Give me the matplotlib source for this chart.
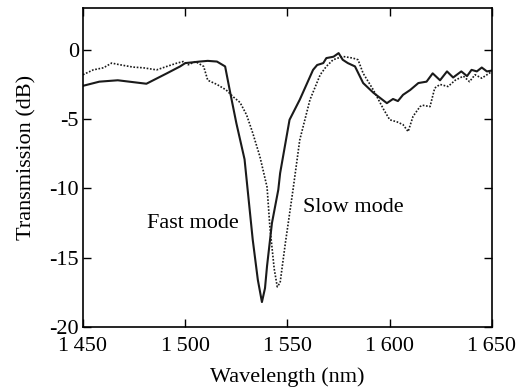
import matplotlib.pyplot as plt
from matplotlib.ticker import FuncFormatter

# fast mode (solid line)
fast_nm = [1450, 1458, 1467, 1481, 1491, 1497.5, 1500, 1504, 1507, 1511, 1515.5, 1519.5,
           1522, 1525, 1529, 1531, 1533, 1535.5, 1537.5, 1539, 1540, 1542.4, 1545.5, 1546.4,
           1551, 1556, 1562.5, 1564.5, 1567.5, 1569, 1572.5, 1575, 1577, 1579.5, 1583, 1587,
           1592, 1598.6, 1601.6, 1604, 1606.5, 1610, 1614, 1618, 1621, 1624.6, 1628, 1631,
           1635, 1637.8, 1640, 1642.6, 1645, 1647.5, 1650]
fast_db = [-2.6, -2.3, -2.2, -2.45, -1.7, -1.2, -0.96, -0.9, -0.85, -0.8, -0.85, -1.2,
           -3.1, -5.3, -7.9, -10.8, -13.7, -16.6, -18.2, -17.2, -15.6, -12.5, -10.1, -8.9,
           -5.05, -3.6, -1.45, -1.1, -0.96, -0.6, -0.5, -0.24, -0.72, -0.96, -1.2, -2.4,
           -3.1, -3.85, -3.55, -3.7, -3.25, -2.9, -2.4, -2.3, -1.7, -2.2, -1.56, -2.0,
           -1.56, -1.9, -1.45, -1.56, -1.28, -1.56, -1.5]

# slow mode (dotted line)
slow_nm = [1450, 1455, 1460, 1464, 1468, 1474.5, 1479.5, 1486, 1491, 1496, 1499, 1501.5,
           1505, 1509, 1511, 1515.5, 1520, 1523.5, 1526.8, 1530, 1533, 1536.5, 1540,
           1541.4, 1543.5, 1545, 1546.4, 1549, 1552.7, 1556, 1561, 1566, 1569, 1572.3, 1577,
           1582, 1584.5, 1587, 1592, 1597, 1600, 1603.5, 1606.5, 1609, 1611.4, 1614.8, 1616,
           1619.7, 1622, 1624.6, 1628.5, 1632, 1636, 1639, 1641.7, 1645, 1650]
slow_db = [-1.8, -1.45, -1.3, -0.96, -1.08, -1.25, -1.3, -1.45, -1.2, -0.96, -0.85, -1.08,
           -0.85, -1.2, -2.2, -2.5, -2.9, -3.4, -3.8, -4.7, -6.0, -7.7, -9.9,
           -12.8, -15.8, -17.1, -16.8, -13.9, -10.1, -6.5, -3.6, -1.8, -1.2, -0.72, -0.48,
           -0.6, -0.72, -1.7, -2.9, -4.3, -5.05, -5.2, -5.4, -5.9, -4.8, -4.1, -4.0,
           -4.1, -2.76, -2.5, -2.65, -2.2, -1.9, -2.3, -1.8, -2.05, -1.56]

x_ticks = [1450, 1500, 1550, 1600, 1650]
y_ticks = [0, -5, -10, -15, -20]

plt.rcParams['font.family'] = ['Liberation Serif', 'DejaVu Serif']
plt.rcParams['axes.unicode_minus'] = False

fig = plt.figure(figsize=(5.22, 3.9), dpi=100)
ax = fig.add_axes([0.159, 0.1615, 0.7835, 0.8175])

ax.plot(fast_nm, fast_db, color='#1a1a1a', lw=1.5, ls='-')
ax.plot(slow_nm, slow_db, color='#1a1a1a', lw=1.2, ls=(0, (1, 1)))

ax.set_xlim(1450, 1650)
ax.set_ylim(-20, 3)
ax.set_xticks(x_ticks)
ax.set_yticks(y_ticks)
ax.xaxis.set_major_formatter(FuncFormatter(lambda v, p: f"{int(v):,}".replace(",", "\u2009")))
ax.tick_params(direction='in', length=6, width=1, top=True, right=True, labelsize=16)
ax.tick_params(axis='x', pad=7)
ax.tick_params(axis='y', pad=3)
for s in ax.spines.values():
    s.set_linewidth(1.2)

ax.set_xlabel('Wavelength (nm)', fontsize=16, labelpad=8)
ax.set_ylabel('Transmission (dB)', fontsize=16)
ax.yaxis.set_label_coords(-0.113, 0.533)

ax.text(1481.3, -12.5, 'Fast mode', fontsize=16, va='center', ha='left')
ax.text(1557.6, -11.4, 'Slow mode', fontsize=16, va='center', ha='left')

fig.savefig('out.png', dpi=100)
